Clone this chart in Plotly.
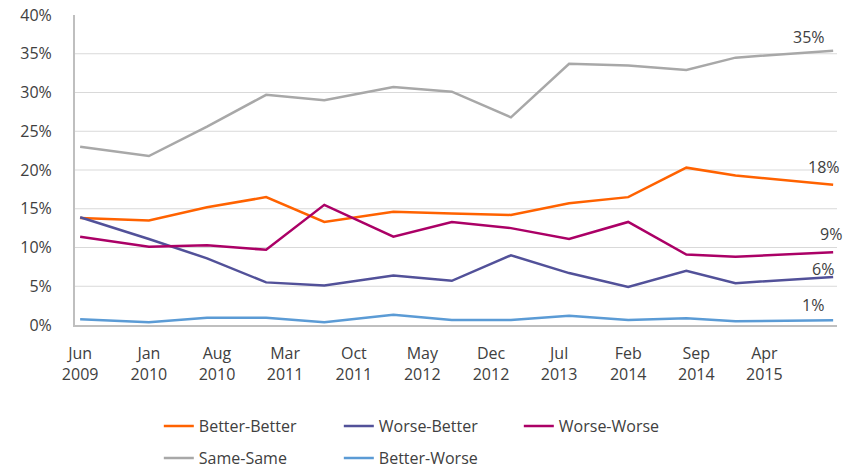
import plotly.graph_objects as go

dates = ["2009-06-01", "2010-01-01", "2010-07-01", "2011-01-01", "2011-07-01",
         "2012-02-01", "2012-08-01", "2013-02-01", "2013-08-01", "2014-02-01",
         "2014-08-01", "2015-01-01", "2015-11-01"]

better_better = [13.8, 13.5, 15.2, 16.5, 13.3, 14.6, 14.4, 14.2, 15.7, 16.5, 20.3, 19.3, 18.1]
worse_better = [13.9, 11.1, 8.6, 5.5, 5.1, 6.4, 5.7, 9.0, 6.7, 4.9, 7.0, 5.4, 6.2]
worse_worse = [11.4, 10.1, 10.3, 9.7, 15.5, 11.4, 13.3, 12.5, 11.1, 13.3, 9.1, 8.8, 9.4]
same_same = [23.0, 21.8, 25.6, 29.7, 29.0, 30.7, 30.1, 26.8, 33.7, 33.5, 32.9, 34.5, 35.4]
better_worse = [0.74, 0.35, 0.95, 0.95, 0.35, 1.33, 0.65, 0.65, 1.2, 0.65, 0.86, 0.5, 0.6]

tick_dates = ["2009-06-01", "2010-01-01", "2010-08-01", "2011-03-01", "2011-10-01",
              "2012-05-01", "2012-12-01", "2013-07-01", "2014-02-01", "2014-09-01",
              "2015-04-01"]
tick_labels = ["Jun<br>2009", "Jan<br>2010", "Aug<br>2010", "Mar<br>2011", "Oct<br>2011",
               "May<br>2012", "Dec<br>2012", "Jul<br>2013", "Feb<br>2014", "Sep<br>2014",
               "Apr<br>2015"]

y_ticks = [0, 5, 10, 15, 20, 25, 30, 35, 40]
y_tick_labels = [f"{v}%" for v in y_ticks]

series = [
    ("Better-Better", better_better, "#FF6200", "legend", (-9, 18)),
    ("Worse-Better", worse_better, "#525199", "legend", (-10, 8)),
    ("Worse-Worse", worse_worse, "#AB0066", "legend", (-2, 18)),
    ("Same-Same", same_same, "#A8A8A8", "legend2", (-24, 14)),
    ("Better-Worse", better_worse, "#5B9BD5", "legend2", (-20, 15)),
]

FONT = "Open Sans"
TXT = "#404040"

fig = go.Figure()
annotations = []
for name, vals, color, leg, (dx, dy) in series:
    fig.add_trace(go.Scatter(x=dates, y=vals, mode="lines", name=name,
                             line=dict(color=color, width=2.5), legend=leg))
    annotations.append(dict(x=dates[-1], y=vals[-1], xref="x", yref="y",
                            text=f"{int(vals[-1] + 0.5)}%", showarrow=False,
                            xshift=dx, yshift=dy,
                            font=dict(family=FONT, size=16, color=TXT)))

for g in y_ticks[1:-1]:
    fig.add_hline(y=g, line=dict(color="#D9D9D9", width=1), layer="below")

legend_common = dict(orientation="h", xanchor="left", yanchor="middle",
                     font=dict(family=FONT, size=16, color=TXT),
                     entrywidth=135, entrywidthmode="pixels",
                     bgcolor="rgba(0,0,0,0)", tracegroupgap=0)

fig.update_layout(
    width=845, height=468,
    margin=dict(l=75, r=8, t=15, b=143, autoexpand=False),
    paper_bgcolor="white", plot_bgcolor="white",
    font=dict(family=FONT, size=16, color=TXT),
    showlegend=True,
    legend=dict(x=0.11, y=-0.326, **legend_common),
    legend2=dict(x=0.11, y=-0.429, **legend_common),
    annotations=annotations,
    xaxis=dict(type="date", range=["2009-05-16", "2015-11-13"],
               tickmode="array", tickvals=tick_dates, ticktext=tick_labels,
               showgrid=False, showline=True, linecolor="#BFBFBF", linewidth=2,
               ticks="", ticklabelstandoff=13, zeroline=False, automargin=False,
               tickfont=dict(family=FONT, size=16, color=TXT)),
    yaxis=dict(range=[0, 40], tickmode="array", tickvals=y_ticks,
               ticktext=y_tick_labels, showgrid=False, showline=True,
               linecolor="#BFBFBF", linewidth=2, ticks="",
               ticklabelstandoff=18, zeroline=False, automargin=False,
               tickfont=dict(family=FONT, size=16, color=TXT)),
)

fig.write_html("out.html")
